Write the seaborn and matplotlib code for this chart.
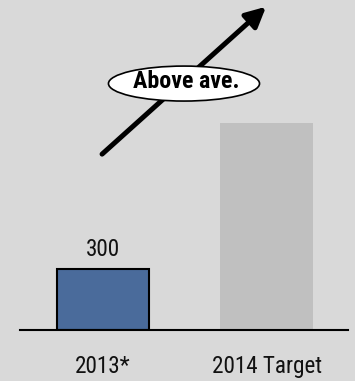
import matplotlib
matplotlib.use("Agg")
import matplotlib.pyplot as plt
from matplotlib.patches import Ellipse
import seaborn as sns
import pandas as pd

categories = ["2013*", "2014 Target"]
values = [300, 1020]
value_labels = ["300", ""]
bar_colors = ["#4a6b9b", "#c0c0c0"]
bar_edges = ["black", "none"]
callout_text = "Above ave."

BG = "#d9d9d9"
sns.set_theme(style="white")
plt.rcParams["font.family"] = ["Roboto Condensed", "Roboto", "DejaVu Sans"]

fig = plt.figure(figsize=(3.55, 3.81), dpi=100, facecolor=BG)
ax = fig.add_axes([20 / 355, 51 / 381, 328 / 355, 330 / 381])
ax.set_facecolor(BG)

df = pd.DataFrame({"cat": categories, "val": values})
sns.barplot(data=df, x="cat", y="val", hue="cat", palette=bar_colors,
            width=0.565, legend=False, ax=ax, saturation=1)

for patch, ec in zip(ax.patches, bar_edges):
    if ec != "none":
        patch.set_edgecolor(ec)
        patch.set_linewidth(1.5)
    else:
        patch.set_linewidth(0)

ax.set_xlim(-0.508, 1.498)
ax.set_ylim(0, 1623)

for i, (v, lab) in enumerate(zip(values, value_labels)):
    if lab:
        ax.text(i, v + 40, lab, ha="center", va="bottom", fontsize=16.7,
                fontstretch="condensed", color="#111111")

# trend arrow with callout
ax.annotate("", xy=(0.997, 1590), xytext=(-0.006, 865),
            arrowprops=dict(arrowstyle="-|>,head_length=1.0,head_width=0.5",
                            color="black", lw=3.6, shrinkA=0, shrinkB=0))
ell = Ellipse((0.495, 1212), width=0.924, height=172, facecolor="white",
              edgecolor="black", lw=1.2, zorder=5)
ax.add_patch(ell)
ax.text(0.51, 1222, callout_text, ha="center", va="center", fontsize=17.3,
        fontweight="bold", fontstretch="condensed", color="black", zorder=6)

for s in ["top", "right", "left"]:
    ax.spines[s].set_visible(False)
ax.spines["bottom"].set_color("black")
ax.spines["bottom"].set_linewidth(1.5)
ax.set_yticks([])
ax.set_xlabel("")
ax.set_ylabel("")
ax.tick_params(axis="x", length=0, pad=18, labelsize=16.7, labelcolor="#111111")

fig.savefig("out.png", dpi=100, facecolor=BG)
